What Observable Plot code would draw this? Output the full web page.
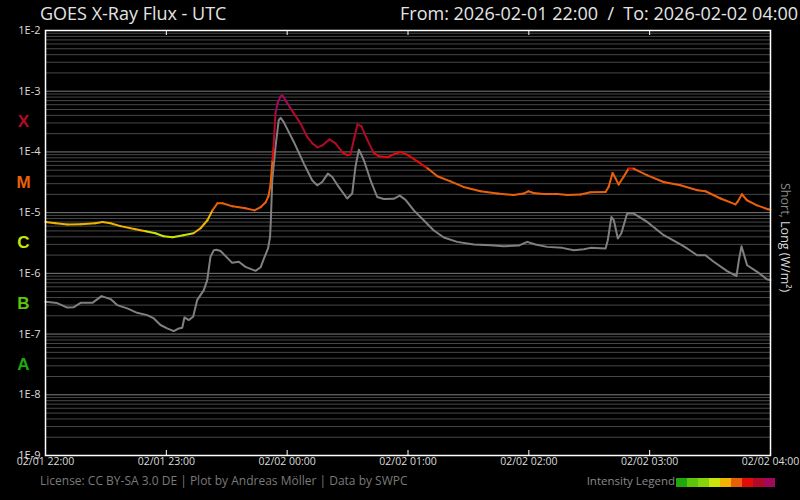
<!DOCTYPE html>
<html><head><meta charset="utf-8">
<script src="https://cdn.jsdelivr.net/npm/d3@7"></script>
<script src="https://cdn.jsdelivr.net/npm/@observablehq/plot@0.6"></script>
<style>
body{margin:0;background:#000;}
#wrap{position:relative;width:800px;height:500px;background:#000;overflow:hidden;font-family:"Open Sans",sans-serif;}
#plot{position:absolute;left:0;top:0;}
.t{position:absolute;white-space:nowrap;line-height:1;}
</style></head>
<body><div id="wrap">
<div id="plot"></div>
<div class="t" style="left:40px;top:4px;font-size:18px;color:#e4e4e4">GOES X-Ray Flux - UTC</div>
<div class="t" style="right:2px;top:4px;font-size:18px;color:#e4e4e4">From: 2026-02-01 22:00 &nbsp;/&nbsp; To: 2026-02-02 04:00</div>
<div class="t" style="left:40px;top:475px;font-size:12px;color:#7a7a7a">License: CC BY-SA 3.0 DE | Plot by Andreas Möller | Data by SWPC</div>
<div class="t" style="right:125px;top:475px;font-size:11.5px;color:#8a8a8a">Intensity Legend</div>
<div id="legend" style="position:absolute;left:675px;top:478px"></div>
<div class="t" style="left:778px;top:183px;writing-mode:vertical-rl;font-size:12.5px"><span style="color:#8a8a8a">Short,</span><span style="color:#dcdcdc"> Long (W/m²)</span></div>
</div>
<script>
// minutes after 2026-02-01 22:00 UTC
const longMin = [0,5,10.9,17.4,24.8,28.3,32.3,37.2,44.7,49.7,54.6,58.6,63.1,68.5,73.5,77,80.4,82.9,85.4,87.9,92.9,99.3,103.8,106.8,109.3,110.7,111.7,112.7,113.2,114.2,115.2,116.7,117.7,119.2,121.7,126.6,130.1,132.6,135.1,137.5,141,144,147.5,150,151.4,153.4,154.9,156.9,159.9,162.9,165.4,169.8,172.8,176.3,179.3,184.7,189.7,194.6,201.1,207.6,216,224.4,232.4,237.4,239.8,242.3,247.3,254.2,259.2,265.7,270.6,278.1,279.6,281.6,283.1,284.6,287,289.5,292,298.9,306.9,315.3,323.7,327.7,335.2,342.6,343.6,345.8,348.3,353.3,358.7,360];
const longFlux = [7.0e-6,6.7e-6,6.4e-6,6.45e-6,6.7e-6,7.0e-6,6.7e-6,6.0e-6,5.33e-6,4.94e-6,4.58e-6,4.09e-6,3.94e-6,4.25e-6,4.58e-6,5.53e-6,7.5e-6,1.09e-5,1.43e-5,1.43e-5,1.27e-5,1.18e-5,1.09e-5,1.23e-5,1.48e-5,1.86e-5,2.82e-5,7.28e-5,1.19e-4,4.31e-4,6.3e-4,8.2e-4,8.5e-4,7.06e-4,5.21e-4,2.95e-4,1.74e-4,1.38e-4,1.19e-4,1.28e-4,1.61e-4,1.38e-4,9.8e-5,8.8e-5,9.1e-5,1.74e-4,2.84e-4,2.64e-4,1.55e-4,9.8e-5,8.5e-5,8.15e-5,9.1e-5,9.95e-5,9.1e-5,7.0e-5,5.37e-5,3.97e-5,3.28e-5,2.65e-5,2.25e-5,2.06e-5,1.95e-5,2.06e-5,2.25e-5,2.11e-5,2.03e-5,2.03e-5,1.95e-5,1.99e-5,2.17e-5,2.19e-5,2.65e-5,4.5e-5,3.64e-5,2.9e-5,3.87e-5,5.31e-5,5.31e-5,4.12e-5,3.2e-5,2.82e-5,2.34e-5,2.25e-5,1.71e-5,1.37e-5,1.5e-5,2.01e-5,1.6e-5,1.32e-5,1.14e-5,1.12e-5];
const shortMin = [0,5.8,10.8,13.9,17.4,23.3,27.8,32.3,35.6,40.6,45.5,50.5,53.8,57.1,60.4,63.7,66.2,67.9,69,71.2,73.3,75.3,78.6,80.3,81.9,83.6,84.9,86.9,92.7,96,99.3,104.3,106.8,108.5,110.5,111.5,111.9,112.6,114.2,115.8,116.7,118.3,123.3,128.3,132.4,134.9,137.4,140.2,142.4,145.6,149.8,152.3,153.9,155.6,158.1,161.4,164.7,168,172.9,175.9,178.8,182.9,187.8,192.7,197.8,204.4,212.7,221,227.6,235,239.2,243.3,249.1,256.6,262.3,267.3,270.6,278.1,279.2,281,282.2,284.2,285.9,288.8,292.1,298.8,307,315.3,318.6,323.6,327.7,331.8,338.5,343.1,344.3,345.6,348.4,353.4,358.4,360];
const shortFlux = [3.4e-7,3.24e-7,2.73e-7,2.76e-7,3.27e-7,3.27e-7,4.22e-7,3.77e-7,3.0e-7,2.65e-7,2.24e-7,2.05e-7,1.81e-7,1.41e-7,1.24e-7,1.12e-7,1.24e-7,1.27e-7,1.88e-7,1.7e-7,1.93e-7,3.62e-7,5.3e-7,7.73e-7,1.87e-6,2.41e-6,2.45e-6,2.34e-6,1.49e-6,1.55e-6,1.28e-6,1.1e-6,1.26e-6,1.76e-6,2.57e-6,3.98e-6,7.5e-6,3.41e-5,1.2e-4,3.31e-4,3.66e-4,3.1e-4,1.46e-4,6.43e-5,3.41e-5,2.82e-5,3.2e-5,4.4e-5,3.87e-5,2.65e-5,1.71e-5,2.06e-5,5.65e-5,1.09e-4,7.28e-5,3.41e-5,1.81e-5,1.68e-5,1.69e-5,1.91e-5,1.62e-5,1.09e-5,7.5e-6,5.14e-6,3.89e-6,3.3e-6,2.99e-6,2.91e-6,2.8e-6,2.87e-6,3.3e-6,2.99e-6,2.73e-6,2.63e-6,2.41e-6,2.5e-6,2.63e-6,2.57e-6,3.52e-6,8.5e-6,7.5e-6,3.75e-6,4.53e-6,9.66e-6,9.66e-6,7.03e-6,4.25e-6,2.99e-6,2.57e-6,1.99e-6,1.99e-6,1.55e-6,1.09e-6,9.0e-7,1.65e-6,2.8e-6,1.36e-6,1.06e-6,7.9e-7,7.8e-7];

const decades = [1e-9,1e-8,1e-7,1e-6,1e-5,1e-4,1e-3,1e-2];
const decadeLabels = ["1E-9","1E-8","1E-7","1E-6","1E-5","1E-4","1E-3","1E-2"];
const hourMin = [0,60,120,180,240,300,360];
const hourLabels = ["02/01 22:00","02/01 23:00","02/02 00:00","02/02 01:00","02/02 02:00","02/02 03:00","02/02 04:00"];
const classLetters = ["A","B","C","M","X"];
const classMid = [3.16e-8,3.16e-7,3.16e-6,3.16e-5,3.16e-4];
const classBreaks = [1e-7,5e-7,1e-6,5e-6,1e-5,5e-5,1e-4,5e-4];
const classColors = ["#1fa80e","#5cc70a","#86d30c","#c8e40a","#f0b400","#ea600a","#e40a0a","#b00a28","#a00a5c"];

const start = Date.UTC(2026,1,1,22,0);
const toDate = m => new Date(start + m*60000);
const longData = longMin.map((m,i)=>({t:toDate(m), f:longFlux[i]}));
const shortData = shortMin.map((m,i)=>({t:toDate(m), f:shortFlux[i]}));
const segs = longData.slice(1).map((d,i)=>({t1:longData[i].t, f1:longData[i].f, t2:d.t, f2:d.f, c:Math.sqrt(longData[i].f*d.f)}));
const minorGrid = [];
for (let e=-9;e<-2;e++) for (let k=2;k<=9;k++) minorGrid.push(k*Math.pow(10,e));
const hourTicks = hourMin.map(toDate);

const chart = Plot.plot({
  width:800, height:500, marginLeft:45, marginRight:30, marginTop:30, marginBottom:45,
  style:{background:"transparent", color:"#ddd", fontFamily:"Open Sans", overflow:"visible"},
  x:{type:"utc", domain:[toDate(0), toDate(360)], axis:null},
  y:{type:"log", domain:[1e-9,1e-2], axis:null},
  color:{type:"threshold", domain:classBreaks, range:classColors},
  marks:[
    Plot.ruleY(minorGrid, {y:d=>d, stroke:"#474747", strokeWidth:1}),
    Plot.ruleY(decades, {y:d=>d, stroke:"#7c7c7c", strokeWidth:1}),
    Plot.line(shortData, {x:"t", y:"f", stroke:"#808080", strokeWidth:2}),
    Plot.link(segs, {x1:"t1", y1:"f1", x2:"t2", y2:"f2", stroke:"c", strokeWidth:2, strokeLinecap:"round"}),
    Plot.frame({stroke:"#fff", strokeWidth:1.5}),
    Plot.tickX(hourTicks, {x:d=>d, stroke:"#fff", insetTop:420}),
    Plot.tickX(hourTicks, {x:d=>d, stroke:"#fff", insetBottom:420}),
    Plot.text(decades, {y:d=>d, text:(d,i)=>decadeLabels[i], frameAnchor:"left", textAnchor:"end", dx:-5, fill:"#dcdcdc", fontSize:11}),
    Plot.text(hourTicks, {x:d=>d, text:(d,i)=>hourLabels[i], frameAnchor:"bottom", textAnchor:"middle", dy:9, fill:"#dcdcdc", fontSize:10.5}),
    Plot.text(classLetters, {y:(d,i)=>classMid[i], text:d=>d, fill:(d,i)=>classMid[i], frameAnchor:"left", textAnchor:"middle", dx:-22, fontSize:17, fontWeight:"bold", fontFamily:"Liberation Sans"})
  ]
});
document.getElementById("plot").appendChild(chart);

const legend = Plot.plot({
  width:100, height:9, marginTop:0, marginBottom:0, marginLeft:0, marginRight:0,
  style:{background:"transparent"},
  x:{type:"band", domain:d3.range(classColors.length), padding:0, axis:null},
  y:{axis:null},
  marks:[Plot.cell(classColors, {x:(d,i)=>i, fill:d=>d})]
});
document.getElementById("legend").appendChild(legend);
</script>
</body></html>
